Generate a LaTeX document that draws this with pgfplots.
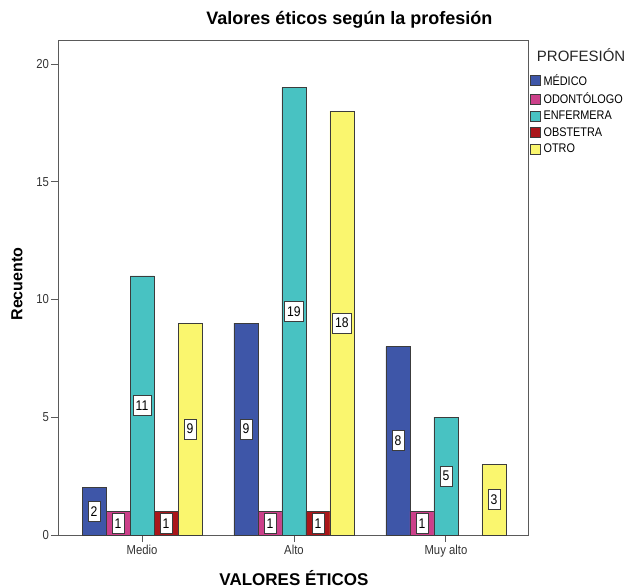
\documentclass[border=0pt]{standalone}
\usepackage{fontspec}
\setmainfont{Liberation Sans}
\newfontfamily\narrowsans[FakeStretch=0.87]{Liberation Sans}
\usepackage{pgfplots}
\pgfplotsset{compat=1.18}

\definecolor{cMedico}{RGB}{62,86,168}
\definecolor{cOdonto}{RGB}{204,64,138}
\definecolor{cEnfer}{RGB}{72,194,194}
\definecolor{cObst}{RGB}{170,22,26}
\definecolor{cOtro}{RGB}{250,246,110}
\definecolor{edge}{RGB}{60,60,60}
\definecolor{axgray}{RGB}{90,90,90}

\begin{document}
\begin{tikzpicture}[x=1pt,y=1pt]
\useasboundingbox (-58,-53) rectangle (572,535);
\begin{axis}[
  at={(0,0)}, anchor=south west,
  scale only axis, width=470pt, height=495pt,
  clip=false,
  ymin=0, ymax=21.02,
  xmin=-0.553, xmax=2.54,
  ybar=0pt, bar width=24pt,
  xtick={0,1,2}, xticklabels={Medio,Alto,Muy alto},
  ytick={0,5,10,15,20},
  xtick pos=bottom, ytick pos=left,
  tick align=outside,
  major tick length=7pt,
  tick style={axgray, line width=0.9pt},
  axis line style={axgray, line width=0.9pt},
  /pgf/number format/assume math mode=true,
  ticklabel style={font=\narrowsans\fontsize{13}{15}\selectfont, text=black!80},
  yticklabel style={xshift=1.5pt},
  xticklabel style={yshift=0pt},
  title={\textbf{Valores éticos según la profesión}},
  title style={at={(axis description cs:0.620,1.028)}, anchor=center,
    font=\fontsize{18}{21}\selectfont},
  xlabel={\textbf{VALORES ÉTICOS}},
  every axis x label/.style={at={(axis description cs:0.502,-0.0869)}, anchor=center,
    font=\fontsize{17}{20}\selectfont},
  ylabel={\textbf{Recuento}},
  every axis y label/.style={at={(axis description cs:-0.0872,0.507)}, anchor=center,
    rotate=90, font=\fontsize{16}{19}\selectfont},
  legend style={draw=none, fill=none, at={(0.9976,0.937)}, anchor=north west,
    font=\narrowsans\fontsize{12.5}{13}\selectfont, row sep=4.6pt,
    nodes={inner sep=0.8pt}},
  legend cell align=left,
  legend image code/.code={\draw[#1, draw=edge, line width=0.7pt] (0pt,-5pt) rectangle (10pt,5pt);},
  nodes near coords,
  point meta=y,
  visualization depends on=rawy\as\rawy,
  every node near coord/.append style={
    anchor=center, shift={(axis direction cs:0,-\rawy/2)},
    fill=white, draw=edge, line width=0.8pt, inner xsep=2.6pt, inner ysep=0pt,
    minimum height=20pt,
    font=\narrowsans\fontsize{14}{15}\selectfont, text=black},
]
\addplot[fill=cMedico, draw=edge, line width=0.8pt] coordinates {(0,2) (1,9) (2,8)};
\addplot[fill=cOdonto, draw=edge, line width=0.8pt] coordinates {(0,1) (1,1) (2,1)};
\addplot[fill=cEnfer,  draw=edge, line width=0.8pt] coordinates {(0,11) (1,19) (2,5)};
\addplot[fill=cObst,   draw=edge, line width=0.8pt] coordinates {(0,1) (1,1)};
\addplot[fill=cOtro,   draw=edge, line width=0.8pt] coordinates {(0,9) (1,18) (2,3)};
\legend{\hspace{2pt}MÉDICO,\hspace{2pt}ODONTÓLOGO,\hspace{2pt}ENFERMERA,\hspace{2pt}OBSTETRA,\hspace{2pt}OTRO}
\node[anchor=center, font=\fontsize{15}{17}\selectfont, text=black!85]
  at (axis description cs:1.113,0.970) {PROFESIÓN};
\end{axis}
\end{tikzpicture}
\end{document}
